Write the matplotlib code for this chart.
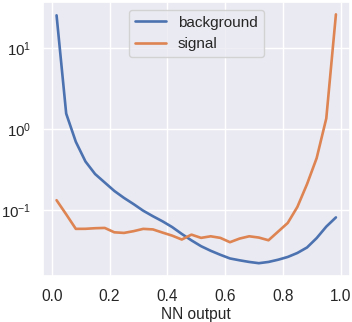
#!/usr/bin/env python3
import numpy as np
import matplotlib
matplotlib.use('Agg')
import matplotlib.pyplot as plt
import seaborn as sns

sns.set_theme(style='darkgrid')
plt.rcParams['font.family'] = 'sans-serif'
plt.rcParams['font.sans-serif'] = ['Liberation Sans', 'DejaVu Sans']
plt.rcParams['mathtext.fontset'] = 'custom'
plt.rcParams['mathtext.rm'] = 'Liberation Sans'
plt.rcParams['mathtext.it'] = 'Liberation Sans:italic'

# bin centres of the NN output histogram (30 bins on [0, 1])
nn_output = (np.arange(30) + 0.5) / 30

background = [25.5, 1.56, 0.70, 0.40, 0.28, 0.22, 0.173, 0.142, 0.119, 0.0986,
              0.0844, 0.073, 0.062, 0.051, 0.0425, 0.036, 0.0316, 0.0282, 0.0254, 0.0241,
              0.0230, 0.0222, 0.0230, 0.0245, 0.0265, 0.0297, 0.0347, 0.0453, 0.0628, 0.0816]

signal = [0.133, 0.089, 0.0589, 0.059, 0.060, 0.0605, 0.0534, 0.0525, 0.0552, 0.0589,
          0.058, 0.053, 0.0486, 0.0435, 0.050, 0.0456, 0.0477, 0.0456, 0.0403, 0.0447,
          0.0477, 0.046, 0.0426, 0.0545, 0.0697, 0.11, 0.21, 0.44, 1.36, 26.2]


def main():
    fig = plt.figure(figsize=(3.52, 3.22), dpi=100)
    ax = fig.add_axes([0.121, 0.144, 0.873, 0.850])
    ax.plot(nn_output, background, lw=1.9, label='background')
    ax.plot(nn_output, signal, lw=1.9, label='signal')
    ax.set_yscale('log')
    ax.set_xlabel('NN output', fontsize=11.2, labelpad=2)
    ax.tick_params(axis='x', labelsize=11.2)
    ax.tick_params(axis='y', labelsize=10.8, pad=2)
    ax.legend(loc='upper center', fontsize=11)
    fig.savefig('out.png', dpi=100)


if __name__ == '__main__':
    main()
